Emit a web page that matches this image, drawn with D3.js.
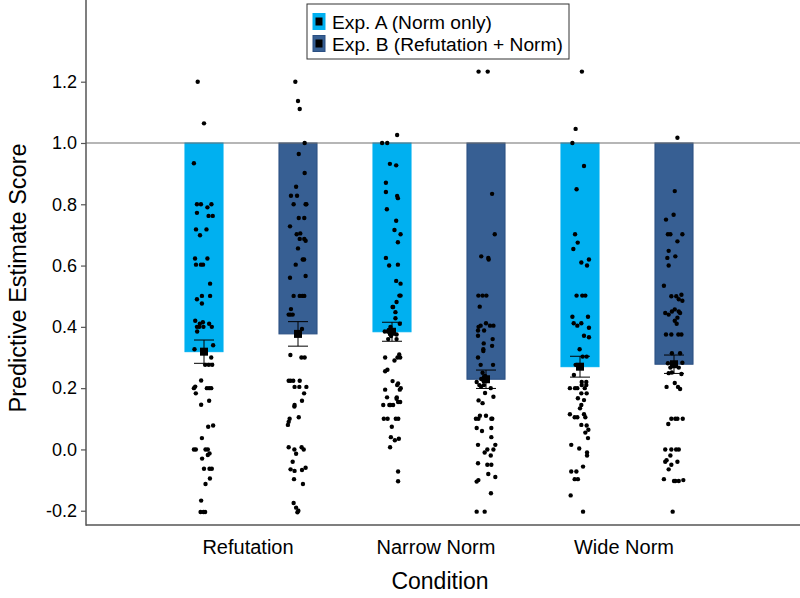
<!DOCTYPE html>
<html>
<head>
<meta charset="utf-8">
<script src="https://cdn.jsdelivr.net/npm/d3@7"></script>
<style>
  html, body { margin: 0; padding: 0; background: #fff; }
  svg { display: block; font-family: "Liberation Sans", Arial, sans-serif; }
</style>
</head>
<body>
<svg id="chart" width="800" height="598"></svg>
<script>
// ---------------- data ----------------
const categories = ["Refutation", "Narrow Norm", "Wide Norm"];
const experiments = ["Exp. A (Norm only)", "Exp. B (Refutation + Norm)"];
const yTicks = [-0.2, 0.0, 0.2, 0.4, 0.6, 0.8, 1.0, 1.2];

const meansA = [0.319, 0.384, 0.270];
const meansB = [0.377, 0.229, 0.278];
const seA = [0.038, 0.031, 0.034];
const seB = [0.040, 0.030, 0.030];

// individual scores: [value, horizontal jitter as a fraction of half bar width]
const pointsRefutationA = [[1.20,-0.33],[1.064,0],[0.934,-0.53],[0.80,-0.37],[0.80,-0.16],[0.79,0.18],[0.80,0.39],[0.772,-0.37],[0.762,0.24],[0.762,0.46],[0.718,-0.42],[0.718,0.13],[0.699,-0.21],[0.623,-0.47],[0.623,0.18],[0.603,-0.42],[0.603,-0.16],[0.603,-0.05],[0.541,0.32],[0.501,-0.11],[0.49,-0.37],[0.501,0.32],[0.476,-0.11],[0.42,-0.46],[0.415,-0.06],[0.41,-0.22],[0.41,0.27],[0.40,-0.37],[0.40,-0.25],[0.40,-0.03],[0.40,0.41],[0.385,-0.36],[0.327,-0.5],[0.34,0.48],[0.30,0.38],[0.276,0.06],[0.276,0.25],[0.276,0.43],[0.225,-0.15],[0.205,-0.46],[0.2,-0.53],[0.2,0.15],[0.2,0.27],[0.2,0.38],[0.183,-0.43],[0.146,-0.15],[0.159,0.27],[0.074,0.22],[0.078,0.48],[0.037,-0.11],[0,-0.53],[0,-0.43],[0,0.08],[0,0.2],[-0.013,0.29],[-0.018,0.2],[-0.03,-0.1],[-0.063,0],[-0.063,0.29],[-0.063,0.41],[-0.095,0.31],[-0.113,0.08],[-0.167,-0.15],[-0.204,-0.18],[-0.204,0.06],[-0.204,-0.03]];
const pointsRefutationB = [[1.20,-0.14],[1.137,0],[1.111,0.09],[1.0,0.35],[0.964,0.04],[0.902,0.35],[0.857,-0.1],[0.828,-0.37],[0.828,-0.05],[0.80,-0.23],[0.80,0.44],[0.80,0.4],[0.755,0.04],[0.755,0.33],[0.728,-0.42],[0.702,-0.07],[0.705,0.12],[0.687,0.09],[0.687,0.33],[0.681,0.4],[0.656,0],[0.62,0.25],[0.62,0.32],[0.603,-0.12],[0.566,0.4],[0.56,-0.42],[0.501,-0.23],[0.501,0.09],[0.501,0.23],[0.501,0.33],[0.458,-0.37],[0.44,-0.49],[0.44,-0.4],[0.44,-0.28],[0.393,0.21],[0.308,-0.4],[0.30,0.18],[0.30,0.35],[0.224,-0.49],[0.224,-0.39],[0.224,-0.25],[0.224,0.09],[0.204,-0.18],[0.204,0.07],[0.204,0.44],[0.183,0.32],[0.159,0.21],[0.145,-0.18],[0.14,-0.19],[0.105,0.04],[0.10,-0.44],[0.09,-0.49],[0.08,-0.53],[0.007,-0.49],[0.0,-0.19],[0.007,0.19],[0.0,0.3],[-0.014,-0.1],[-0.04,-0.28],[-0.065,-0.39],[-0.07,-0.18],[-0.067,0.21],[-0.06,0.4],[-0.097,-0.21],[-0.113,0.26],[-0.175,-0.23],[-0.19,-0.1],[-0.2,0.02],[-0.205,-0.03]];
const pointsNarrowA = [[1.026,0.27],[1.0,-0.52],[1.0,-0.25],[0.932,-0.11],[0.927,0.22],[0.87,-0.32],[0.84,-0.32],[0.827,0.27],[0.82,0.31],[0.784,-0.27],[0.746,0.22],[0.716,0.13],[0.702,0.45],[0.676,0.31],[0.625,-0.32],[0.60,-0.15],[0.603,0.31],[0.55,0.22],[0.541,0.45],[0.502,0.39],[0.502,0.45],[0.481,0.24],[0.465,0.06],[0.465,0.03],[0.448,0.18],[0.428,0.18],[0.41,0.41],[0.40,-0.08],[0.39,-0.17],[0.39,0.03],[0.385,-0.38],[0.385,-0.22],[0.38,-0.12],[0.37,-0.05],[0.36,-0.2],[0.375,0.24],[0.36,0.24],[0.30,-0.36],[0.29,0.13],[0.30,0.29],[0.31,0.38],[0.30,0.43],[0.255,-0.36],[0.26,-0.24],[0.223,0.03],[0.21,0.27],[0.215,0.32],[0.2,0.46],[0.195,0.41],[0.195,-0.36],[0.17,-0.26],[0.17,0.25],[0.165,0.24],[0.155,0.32],[0.155,0.43],[0.145,-0.46],[0.145,-0.14],[0.145,-0.08],[0.145,0.06],[0.10,-0.43],[0.10,-0.23],[0.10,0.2],[0.10,0.33],[0.074,-0.01],[0.04,-0.06],[0.03,0.15],[0.035,0.36],[0.007,-0.1],[-0.072,0.32],[-0.104,0.32]];
const pointsNarrowB = [[1.233,-0.39],[1.233,0.09],[0.834,0.32],[0.702,0.46],[0.63,-0.25],[0.625,0.12],[0.62,0.14],[0.502,-0.4],[0.502,-0.18],[0.502,0.02],[0.466,-0.33],[0.412,0],[0.404,-0.28],[0.40,-0.39],[0.388,-0.42],[0.388,-0.1],[0.404,0.21],[0.404,0.39],[0.371,-0.42],[0.36,0.35],[0.346,-0.12],[0.338,0.32],[0.327,-0.14],[0.321,-0.14],[0.30,-0.42],[0.276,-0.28],[0.276,0.37],[0.25,-0.18],[0.24,-0.05],[0.23,-0.25],[0.225,-0.03],[0.225,-0.14],[0.22,-0.49],[0.21,-0.35],[0.205,-0.26],[0.21,-0.11],[0.2,0.25],[0.184,-0.05],[0.16,-0.39],[0.151,-0.18],[0.172,0.39],[0.10,-0.53],[0.10,-0.4],[0.11,-0.32],[0.11,0],[0.10,0.28],[0.10,0.33],[0.07,-0.49],[0.06,-0.21],[0.07,0.28],[0.04,0.28],[0.015,-0.42],[-0.01,-0.07],[0.0,0.07],[-0.02,0.25],[0.0,0.39],[0.015,0.49],[-0.05,0.07],[-0.045,-0.42],[-0.05,0.28],[-0.08,0.12],[-0.09,0.49],[-0.1,-0.4],[-0.105,-0.49],[-0.143,0.26],[-0.203,-0.49],[-0.203,-0.07]];
const pointsWideA = [[1.233,0.1],[1.046,-0.23],[1.0,-0.4],[0.925,0.21],[0.849,-0.18],[0.702,-0.26],[0.675,-0.12],[0.654,-0.35],[0.61,0.07],[0.60,0.37],[0.62,0.47],[0.502,-0.18],[0.502,0.12],[0.502,0.28],[0.433,-0.4],[0.412,-0.33],[0.404,-0.14],[0.412,0.07],[0.433,0.42],[0.397,0.47],[0.371,0.21],[0.366,0.47],[0.327,-0.02],[0.303,0.14],[0.303,0.35],[0.276,-0.23],[0.243,-0.32],[0.22,0.09],[0.22,0.33],[0.21,0.09],[0.21,0.33],[0.20,-0.53],[0.20,-0.26],[0.20,-0.14],[0.20,0.25],[0.183,0.35],[0.183,0.07],[0.167,-0.11],[0.161,0.21],[0.145,0.07],[0.134,0],[0.115,-0.53],[0.105,-0.28],[0.105,-0.14],[0.115,0.21],[0.105,0.28],[0.08,0.07],[0.078,0.35],[0.064,0.44],[0.055,0.28],[0.037,0.42],[0.015,-0.46],[0.003,-0.04],[-0.01,0.37],[-0.02,0.37],[-0.056,0.16],[-0.072,-0.46],[-0.072,-0.19],[-0.097,-0.28],[-0.097,-0.11],[-0.15,-0.49],[-0.203,0.16]];
const pointsWideB = [[1.017,0.18],[0.843,0.04],[0.766,-0.02],[0.75,-0.42],[0.702,-0.32],[0.702,-0.19],[0.702,0.44],[0.679,0.18],[0.648,-0.28],[0.625,-0.35],[0.63,0.07],[0.60,-0.28],[0.534,-0.53],[0.50,-0.14],[0.50,0.12],[0.505,0.39],[0.49,0.25],[0.485,0.44],[0.457,0.04],[0.445,-0.46],[0.44,-0.28],[0.45,-0.11],[0.45,0.25],[0.445,0.32],[0.43,0.18],[0.42,0.04],[0.41,0.14],[0.375,-0.42],[0.375,-0.14],[0.375,0.23],[0.375,0.39],[0.314,-0.11],[0.314,0.32],[0.283,0.44],[0.281,-0.32],[0.267,-0.19],[0.249,-0.28],[0.267,0.25],[0.246,0.39],[0.251,-0.11],[0.204,-0.39],[0.217,0.04],[0.204,0.21],[0.197,0.32],[0.083,-0.3],[0.10,-0.14],[0.10,0.07],[0.10,0.18],[0.10,0.46],[0.0,-0.46],[0.0,-0.14],[0.0,0.11],[0.0,0.25],[-0.02,-0.19],[-0.035,-0.39],[-0.04,-0.46],[-0.04,0.18],[-0.05,-0.14],[-0.065,-0.28],[-0.097,-0.53],[-0.103,0.07],[-0.103,0.25],[-0.1,0.49],[-0.103,0],[-0.203,-0.07]];

const pointsA = [pointsRefutationA, pointsNarrowA, pointsWideA];
const pointsB = [pointsRefutationB, pointsNarrowB, pointsWideB];

const colorA = "#00b0f0";
const colorB = "#375f93";
const strokeB = "#2a4f82";

// ---------------- layout ----------------
const svg = d3.select("#chart");
const W = 800, H = 598;
const axisX = 86, axisBottom = 525;

const y = d3.scaleLinear().domain([-0.2466, 1.4666]).range([axisBottom, 0]);
const xGroup = d3.scaleBand().domain(categories).range([157, 721]).padding(0);
const xExp = d3.scaleBand().domain(experiments).range([0, xGroup.bandwidth()]).padding(0);
const barW = xExp.bandwidth() * 0.405;
const jitterHalf = barW / 2;

const series = experiments.map((e, k) => ({
  exp: e,
  fill: k === 0 ? colorA : colorB,
  stroke: k === 0 ? colorA : strokeB,
  means: k === 0 ? meansA : meansB,
  se: k === 0 ? seA : seB,
  points: k === 0 ? pointsA : pointsB
}));

function cx(cat, exp) { return xGroup(cat) + xExp(exp) + xExp.bandwidth() / 2; }

// bars (hanging from the reference line at 1.0 down to the mean)
series.forEach(s => {
  svg.append("g").selectAll("rect").data(categories).join("rect")
    .attr("x", c => cx(c, s.exp) - barW / 2)
    .attr("y", y(1.0))
    .attr("width", barW)
    .attr("height", (c, i) => y(s.means[i]) - y(1.0))
    .attr("fill", s.fill)
    .attr("stroke", s.stroke)
    .attr("stroke-width", 1);
});

// reference line at 1.0
svg.append("line")
  .attr("x1", axisX).attr("x2", W)
  .attr("y1", y(1.0)).attr("y2", y(1.0))
  .attr("stroke", "#6e6e6e").attr("stroke-width", 1.2);

// points
series.forEach(s => {
  categories.forEach((c, i) => {
    svg.append("g").selectAll("circle").data(s.points[i]).join("circle")
      .attr("cx", d => cx(c, s.exp) + d[1] * jitterHalf)
      .attr("cy", d => y(d[0]))
      .attr("r", 2.2)
      .attr("fill", "#000");
  });
});

// error bars + mean markers
series.forEach(s => {
  const g = svg.append("g");
  categories.forEach((c, i) => {
    const x0 = cx(c, s.exp);
    const lo = y(s.means[i] - s.se[i]), hi = y(s.means[i] + s.se[i]);
    g.append("line").attr("x1", x0).attr("x2", x0).attr("y1", lo).attr("y2", hi)
      .attr("stroke", "#000").attr("stroke-width", 1);
    [lo, hi].forEach(v => g.append("line").attr("x1", x0 - 10).attr("x2", x0 + 10)
      .attr("y1", v).attr("y2", v).attr("stroke", "#000").attr("stroke-width", 1));
    g.append("rect").attr("x", x0 - 4).attr("y", y(s.means[i]) - 4)
      .attr("width", 8).attr("height", 8).attr("fill", "#000");
  });
});

// y axis
const yAxis = d3.axisLeft(y).tickValues(yTicks).tickSize(5).tickPadding(4)
  .tickFormat(v => v.toFixed(1));
const gy = svg.append("g").attr("transform", `translate(${axisX},0)`).call(yAxis);
gy.select(".domain").remove();
gy.selectAll(".tick line").attr("stroke", "#555").attr("stroke-width", 1.2);
gy.selectAll(".tick text").attr("font-size", 18).attr("fill", "#000")
  .attr("font-family", "Liberation Sans, Arial, sans-serif");
svg.append("line").attr("x1", axisX).attr("x2", axisX).attr("y1", 0).attr("y2", axisBottom + 0.75)
  .attr("stroke", "#555").attr("stroke-width", 1.5);

// x axis
svg.append("line").attr("x1", axisX).attr("x2", W).attr("y1", axisBottom).attr("y2", axisBottom)
  .attr("stroke", "#555").attr("stroke-width", 1.5);
svg.append("g").selectAll("text").data(categories).join("text")
  .attr("x", c => xGroup(c) + xGroup.bandwidth() / 2 - 3).attr("y", 554)
  .attr("text-anchor", "middle").attr("font-size", 20).attr("fill", "#000")
  .text(c => c);

// axis titles
svg.append("text").attr("x", 440).attr("y", 589).attr("text-anchor", "middle")
  .attr("font-size", 23).attr("fill", "#000").text("Condition");
svg.append("text").attr("transform", "translate(26,278) rotate(-90)")
  .attr("text-anchor", "middle").attr("font-size", 23.5).attr("fill", "#000")
  .text("Predictive Estimate Score");

// legend
const lg = svg.append("g").attr("transform", "translate(307,4)");
lg.append("rect").attr("x", 0).attr("y", 0).attr("width", 262).attr("height", 55)
  .attr("fill", "#fff").attr("stroke", "#333").attr("stroke-width", 1);
series.forEach((s, k) => {
  const ry = 17.5 + k * 22;
  lg.append("rect").attr("x", 6).attr("y", ry - 8).attr("width", 12).attr("height", 16)
    .attr("fill", s.fill).attr("stroke", s.stroke);
  lg.append("rect").attr("x", 8.5).attr("y", ry - 4).attr("width", 7).attr("height", 8).attr("fill", "#000");
  lg.append("text").attr("x", 25).attr("y", ry + 7).attr("font-size", 19.2).attr("fill", "#000")
    .text(s.exp);
});
</script>
</body>
</html>
